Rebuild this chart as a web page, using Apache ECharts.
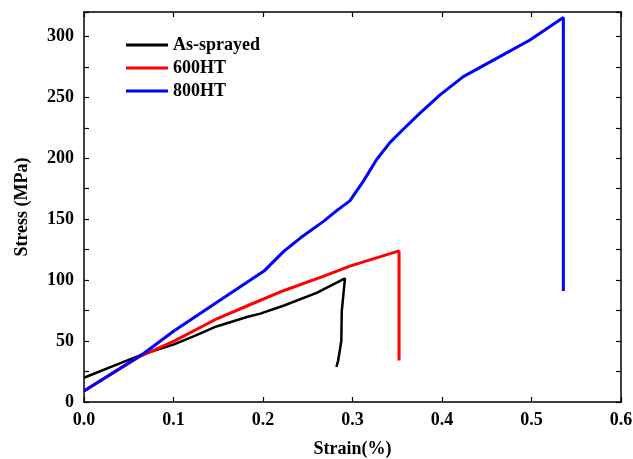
<!DOCTYPE html>
<html>
<head>
<meta charset="utf-8">
<script src="https://cdn.jsdelivr.net/npm/echarts@6/dist/echarts.min.js"></script>
<style>
  html, body { margin: 0; padding: 0; background: #fff; }
  #chart { width: 633px; height: 459px; }
</style>
</head>
<body>
<div id="chart"></div>
<script>
// stress-strain curves, values
var sprayedX = [0, 0.0372, 0.0633, 0.1006, 0.123, 0.148, 0.182, 0.197, 0.2227, 0.26, 0.2916, 0.288, 0.2875, 0.284, 0.282];
var sprayedY = [19.9, 30.9, 38.5, 47.3, 54, 62, 69.7, 72.5, 79, 89.6, 101.4, 74.6, 50, 34, 28.7];

var ht600X = [0, 0.0633, 0.1006, 0.149, 0.186, 0.2235, 0.268, 0.297, 0.352, 0.352];
var ht600Y = [9, 37.7, 50, 68.5, 80, 91.5, 103.3, 111.5, 124, 34];

var ht800X = [0, 0.067, 0.1, 0.149, 0.2011, 0.2086, 0.2235, 0.242, 0.268, 0.2823, 0.297, 0.312, 0.327, 0.342, 0.357, 0.3754, 0.3978, 0.4238, 0.461, 0.4983, 0.5356, 0.5356];
var ht800Y = [9, 40, 58, 82, 107.4, 112.9, 123.8, 134.7, 148.4, 157, 165, 181, 199, 213, 224, 237, 252, 267, 282, 297, 315.5, 91];

var xTicks = { min: 0, max: 0.6, interval: 0.1 };
var yTicks = { min: 0, max: 320, interval: 25, labelStep: 50, labelMax: 300 };

function pairs(xs, ys) {
  return xs.map(function (x, i) { return [x, ys[i]]; });
}

var font = 'Liberation Serif';
var chart = echarts.init(document.getElementById('chart'));

var frameAxis = {
  axisLine: { show: true, onZero: false, lineStyle: { color: '#000', width: 1.5 } },
  axisTick: { show: true, inside: true, length: 5, lineStyle: { color: '#000', width: 1.2 } },
  splitLine: { show: false }
};

var option = {
  animation: false,
  grid: { left: 84, right: 12, top: 12, bottom: 57, outerBoundsMode: 'none' },
  legend: {
    orient: 'vertical',
    left: 121,
    top: 31,
    itemWidth: 42,
    itemHeight: 3,
    itemGap: 5,
    icon: 'rect',
    textStyle: { fontFamily: font, fontWeight: 'bold', fontSize: 18, color: '#000' },
    data: ['As-sprayed', '600HT', '800HT']
  },
  xAxis: [
    Object.assign({
      type: 'value',
      min: xTicks.min, max: xTicks.max, interval: xTicks.interval,
      name: 'Strain(%)',
      nameLocation: 'middle',
      nameGap: 38,
      nameTextStyle: { fontFamily: font, fontWeight: 'bold', fontSize: 18, color: '#000' },
      axisLabel: {
        margin: 9,
        fontFamily: font, fontWeight: 'bold', fontSize: 18, color: '#000',
        formatter: function (v) { return v.toFixed(1); }
      }
    }, frameAxis),
    Object.assign({
      type: 'value', position: 'top',
      min: xTicks.min, max: xTicks.max, interval: xTicks.interval,
      axisLabel: { show: false }
    }, frameAxis)
  ],
  yAxis: [
    Object.assign({
      type: 'value',
      min: yTicks.min, max: yTicks.max, interval: yTicks.interval,
      name: 'Stress (MPa)',
      nameLocation: 'middle',
      nameGap: 53,
      nameTextStyle: { fontFamily: font, fontWeight: 'bold', fontSize: 18, color: '#000' },
      axisLabel: {
        margin: 10,
        fontFamily: font, fontWeight: 'bold', fontSize: 18, color: '#000',
        formatter: function (v) {
          return (v % yTicks.labelStep === 0 && v <= yTicks.labelMax) ? String(v) : '';
        }
      }
    }, frameAxis),
    Object.assign({
      type: 'value', position: 'right',
      min: yTicks.min, max: yTicks.max, interval: yTicks.interval,
      axisLabel: { show: false }
    }, frameAxis)
  ],
  series: [
    {
      name: 'As-sprayed', type: 'line', showSymbol: false,
      data: pairs(sprayedX, sprayedY),
      itemStyle: { color: '#000000' },
      lineStyle: { color: '#000000', width: 2.5 }
    },
    {
      name: '600HT', type: 'line', showSymbol: false,
      data: pairs(ht600X, ht600Y),
      itemStyle: { color: '#ff0000' },
      lineStyle: { color: '#ff0000', width: 3 }
    },
    {
      name: '800HT', type: 'line', showSymbol: false,
      data: pairs(ht800X, ht800Y),
      itemStyle: { color: '#0000ff' },
      lineStyle: { color: '#0000ff', width: 3 }
    }
  ]
};

chart.setOption(option);
</script>
</body>
</html>
